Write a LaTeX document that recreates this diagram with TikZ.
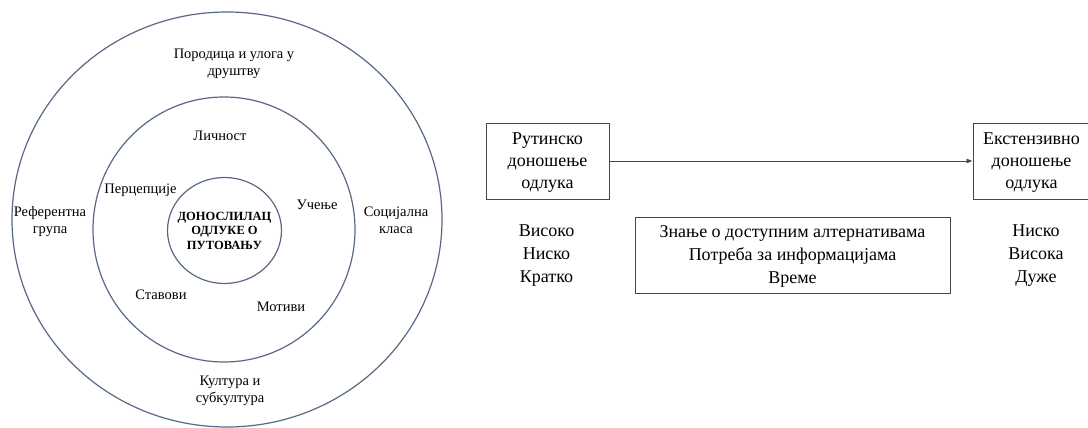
\documentclass[tikz,border=0pt]{standalone}
\usepackage{fontspec}
\setmainfont{Liberation Serif}
\usetikzlibrary{arrows.meta}
\definecolor{ringc}{RGB}{88,104,135}
\definecolor{boxc}{RGB}{70,70,70}
\begin{document}
\begin{tikzpicture}[x=1pt,y=-1pt,
  ring/.style={draw=ringc, line width=1.2pt},
  lbl/.style={font=\fontsize{14.5}{17}\selectfont, align=center, inner sep=0pt, text depth=0pt},
  ctr/.style={font=\bfseries\fontsize{12.5}{14.5}\selectfont, align=center, inner sep=0pt, text depth=0pt},
  big/.style={font=\fontsize{18}{23}\selectfont, align=center, inner sep=0pt, text depth=0pt},
  stagebox/.style={draw=boxc, line width=0.8pt, minimum height=76pt, inner sep=0pt, text depth=0pt, font=\fontsize{18}{22}\selectfont, align=center},
  infobox/.style={draw=boxc, line width=0.8pt, minimum width=315pt, minimum height=76pt, inner sep=0pt, text depth=0pt, font=\fontsize{18}{23}\selectfont, align=center},
  link/.style={draw=boxc, line width=0.6pt, -{Latex[length=6pt,width=5pt]}}]
\useasboundingbox (0,0) rectangle (1088,428);
\clip (0,0) rectangle (1088,428);
% rings
\draw[ring] (227,219.5) ellipse [x radius=215, y radius=207.5];
\draw[ring] (224,229.5) ellipse [x radius=131, y radius=132.5];
\draw[ring] (224.5,230.5) ellipse [x radius=57, y radius=53];
% ring labels
\node[lbl] (fam) at (234,62) {Породица и улога у\\друштву};
\node[lbl] (ref) at (50,220) {Референтна\\група};
\node[lbl] (soc) at (396,220.5) {Социјална\\класа};
\node[lbl] (cul) at (230,389) {Култура и\\субкултура};
\node[lbl] (per) at (220,135.5) {Личност};
\node[lbl] (perc) at (140.5,188.5) {Перцепције};
\node[lbl] (lea) at (317,205) {Учење};
\node[lbl] (att) at (161,294.5) {Ставови};
\node[lbl] (mot) at (281,307) {Мотиви};
\node[ctr] (dm) at (224.5,230.5) {ДОНОСЛИЛАЦ\\ОДЛУКЕ О\\ПУТОВАЊУ};
% right part
\node[stagebox, minimum width=123pt] (rout) at (547.5,161) {Рутинско\\доношење\\одлука};
\node[stagebox, minimum width=117pt] (ext) at (1031.5,161) {Екстензивно\\доношење\\одлука};
\draw[link] (rout.east) -- (ext.west);
\node[infobox] (info) at (792.5,255) {Знање о доступним алтернативама\\Потреба за информацијама\\Време};
\node[big] (lowv) at (546.5,254) {Високо\\Ниско\\Кратко};
\node[big] (highv) at (1036,254) {Ниско\\Висока\\Дуже};
\end{tikzpicture}
\end{document}
